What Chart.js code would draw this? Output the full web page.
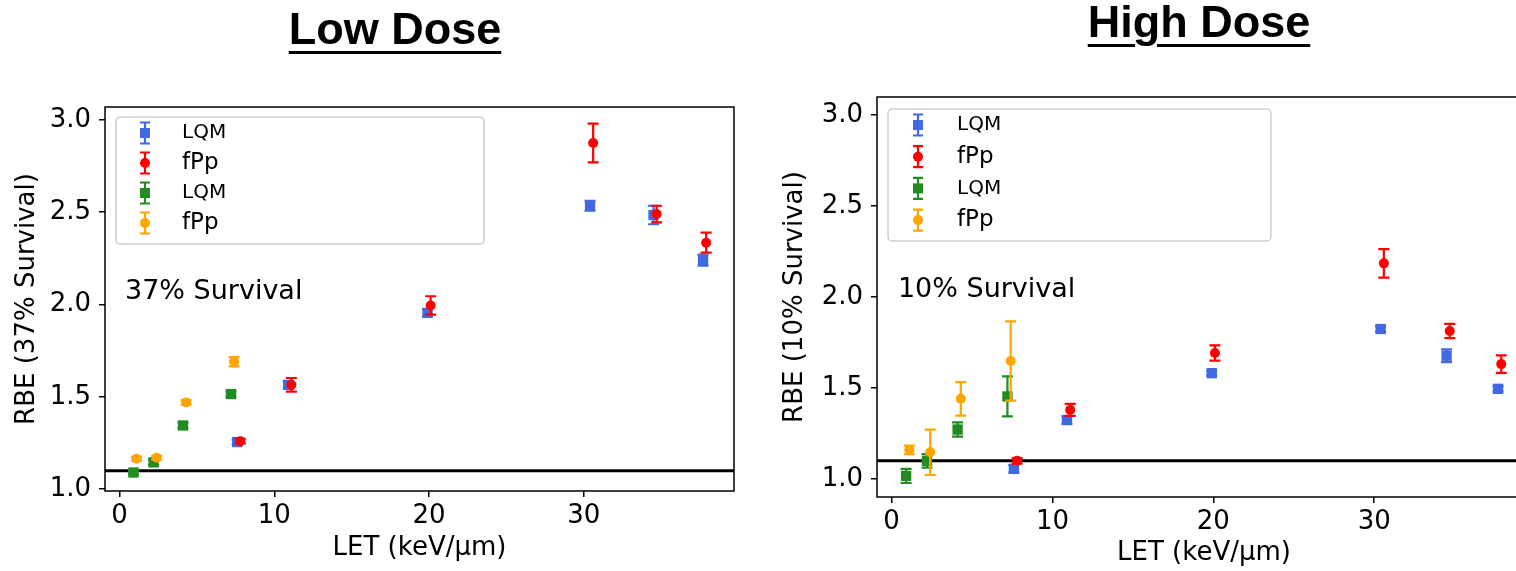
<!DOCTYPE html>
<html>
<head>
<meta charset="utf-8">
<script src="https://cdn.jsdelivr.net/npm/chart.js@4.4.0/dist/chart.umd.min.js"></script>
<style>
  html, body { margin: 0; padding: 0; background: #fff; overflow: hidden; }
  body { width: 1516px; height: 571px; position: relative; }
  .panel { position: absolute; top: 0; height: 571px; }
  #panelLow { left: 0; width: 758px; }
  #panelHigh { left: 758px; width: 782px; }
  .dose {
    position: absolute; z-index: 2; transform: translateX(-50%);
    font-family: 'Liberation Sans', Lato, sans-serif; font-weight: bold; font-size: 45px;
    line-height: 1; white-space: nowrap; color: #000;
    text-decoration: underline; text-decoration-thickness: 3px; text-underline-offset: 7px;
  }
  #lowTitle { left: 395px; top: 6px; }
  #highTitle { left: 1199px; top: -1px; }
</style>
</head>
<body>
<div id="lowTitle" class="dose">Low Dose</div>
<div id="highTitle" class="dose">High Dose</div>
<div id="panelLow" class="panel"><canvas id="lowChart"></canvas></div>
<div id="panelHigh" class="panel"><canvas id="highChart"></canvas></div>
<script>
// LET values (keV/um), shared by both panels
const letBlue = [7.6, 10.9, 19.9, 30.4, 34.5, 37.7];
const letRed = [7.8, 11.1, 20.1, 30.6, 34.7, 37.9];
const letGreen = [0.9, 2.2, 4.1, 7.2];
const letOrange = [1.1, 2.4, 4.3, 7.4];

// low dose (37% survival)
const lowBlue = [1.255, 1.565, 1.955, 2.535, 2.485, 2.24];
const lowBlueErr = [0.012, 0.02, 0.02, 0.027, 0.05, 0.03];
const lowRed = [1.26, 1.565, 1.995, 2.875, 2.49, 2.335];
const lowRedErr = [0.012, 0.037, 0.05, 0.105, 0.045, 0.054];
const lowGreen = [1.09, 1.145, 1.345, 1.515];
const lowGreenErr = [0.01, 0.015, 0.015, 0.015];
const lowOrange = [1.165, 1.17, 1.47, 1.69];
const lowOrangeErr = [0.01, 0.01, 0.012, 0.025];

// high dose (10% survival)
const highBlue = [1.055, 1.323, 1.581, 1.824, 1.677, 1.495];
const highBlueErr = [0.02, 0.02, 0.012, 0.015, 0.035, 0.015];
const highRed = [1.099, 1.379, 1.692, 2.185, 1.813, 1.631];
const highRedErr = [0.015, 0.033, 0.042, 0.078, 0.039, 0.048];
const highGreen = [1.016, 1.099, 1.271, 1.453];
const highGreenErr = [0.039, 0.037, 0.039, 0.11];
const highOrange = [1.159, 1.146, 1.44, 1.648];
const highOrangeErr = [0.024, 0.125, 0.092, 0.218];

const seriesNames = ['LQM', 'fPp', 'LQM', 'fPp'];
const xTickVals = [0, 10, 20, 30];
const yTickVals = [1.0, 1.5, 2.0, 2.5, 3.0];
const refRbe = 1.1;

const FONT = 'DejaVu Sans';
const colors = ['#4169e1', '#ff0000', '#228b22', '#ffa500'];
const shapes = ['rect', 'circle', 'rect', 'circle'];

function pts(xs, ys) {
  return xs.map((x, i) => ({ x: x, y: ys[i] }));
}

function makeSets(ys, errs) {
  const xs = [letBlue, letRed, letGreen, letOrange];
  return ys.map((y, k) => ({
    label: seriesNames[k],
    data: pts(xs[k], y),
    errors: errs[k],
    order: 4 - k,
    pointStyle: shapes[k],
    pointRadius: shapes[k] == 'rect' ? 7.3 : 5,
    pointHoverRadius: shapes[k] == 'rect' ? 7.3 : 5,
    backgroundColor: colors[k],
    borderColor: colors[k],
    borderWidth: 0
  }));
}

// error bars, reference line, frame, legend and label
const extras = {
  id: 'extras',
  beforeDatasetsDraw(chart) {
    const { ctx, chartArea } = chart;
    const y = chart.scales.y.getPixelForValue(refRbe);
    ctx.save();
    ctx.strokeStyle = '#000';
    ctx.lineWidth = 3;
    ctx.beginPath();
    ctx.moveTo(chartArea.left, y);
    ctx.lineTo(chartArea.right, y);
    ctx.stroke();
    ctx.restore();
  },
  beforeDatasetDraw(chart, args) {
    const ds = chart.data.datasets[args.index];
    const ys = chart.scales.y;
    const ctx = chart.ctx;
    ctx.save();
    ctx.strokeStyle = ds.borderColor;
    ctx.lineWidth = 2.2;
    args.meta.data.forEach((p, i) => {
      const v = ds.data[i].y, e = ds.errors[i];
      const t = ys.getPixelForValue(v + e), b = ys.getPixelForValue(v - e);
      ctx.beginPath();
      ctx.moveTo(p.x, t); ctx.lineTo(p.x, b);
      ctx.moveTo(p.x - 5.5, t); ctx.lineTo(p.x + 5.5, t);
      ctx.moveTo(p.x - 5.5, b); ctx.lineTo(p.x + 5.5, b);
      ctx.stroke();
    });
    ctx.restore();
  },
  afterDraw(chart, args, opts) {
    const { ctx, chartArea } = chart;
    ctx.save();
    ctx.strokeStyle = '#000';
    ctx.lineWidth = 1.5;
    ctx.strokeRect(chartArea.left, chartArea.top, chartArea.right - chartArea.left, chartArea.bottom - chartArea.top);

    // legend box
    const lg = opts.legend;
    const bx = chartArea.left + lg.x, by = chartArea.top + lg.y;
    ctx.fillStyle = 'rgba(255,255,255,0.8)';
    ctx.strokeStyle = '#d0d0d0';
    ctx.lineWidth = 1.5;
    ctx.beginPath();
    ctx.roundRect(bx, by, lg.w, lg.h, 4);
    ctx.fill();
    ctx.stroke();
    chart.data.datasets.forEach((ds, k) => {
      const cy = by + lg.first + k * lg.step;
      const cx = bx + lg.glyph;
      ctx.strokeStyle = ds.borderColor;
      ctx.fillStyle = ds.backgroundColor;
      ctx.lineWidth = 2.2;
      ctx.beginPath();
      ctx.moveTo(cx, cy - 10.5); ctx.lineTo(cx, cy + 10.5);
      ctx.moveTo(cx - 5, cy - 10.5); ctx.lineTo(cx + 5, cy - 10.5);
      ctx.moveTo(cx - 5, cy + 10.5); ctx.lineTo(cx + 5, cy + 10.5);
      ctx.stroke();
      ctx.beginPath();
      if (ds.pointStyle == 'rect') ctx.rect(cx - 5, cy - 5, 10, 10);
      else ctx.arc(cx, cy, 5, 0, Math.PI * 2);
      ctx.fill();
      ctx.fillStyle = '#000';
      ctx.textBaseline = 'middle';
      ctx.textAlign = 'left';
      ctx.font = (ds.label == 'LQM' ? 20 : 23) + 'px "' + FONT + '"';
      ctx.fillText(ds.label, bx + lg.text, cy);
    });

    // survival label
    const nt = opts.note;
    ctx.fillStyle = '#000';
    ctx.font = '27px "' + FONT + '"';
    ctx.textBaseline = 'alphabetic';
    ctx.fillText(nt.text, chart.scales.x.getPixelForValue(nt.x), chart.scales.y.getPixelForValue(nt.y));
    ctx.restore();
  }
};

function makeChart(id, sets, cfg) {
  return new Chart(document.getElementById(id), {
    type: 'scatter',
    data: { datasets: sets },
    plugins: [extras],
    options: {
      responsive: true,
      maintainAspectRatio: false,
      animation: false,
      events: [],
      layout: { padding: { top: cfg.top, right: cfg.right, left: 0, bottom: 0 } },
      plugins: {
        legend: { display: false },
        tooltip: { enabled: false },
        extras: { legend: cfg.legend, note: cfg.note }
      },
      scales: {
        x: {
          type: 'linear',
          min: cfg.xMin, max: cfg.xMax,
          afterBuildTicks: s => { s.ticks = xTickVals.map(v => ({ value: v })); },
          afterFit: s => { s.height = cfg.xAxisH; },
          grid: { drawOnChartArea: false, drawTicks: true, tickLength: 6, color: '#000', lineWidth: 1.5 },
          border: { display: false },
          ticks: { color: '#000', padding: 4, maxRotation: 0, font: { family: FONT, size: 26 } },
          title: { display: true, text: 'LET (keV/\u03bcm)', color: '#000', font: { family: FONT, size: 26 }, padding: { top: 0, bottom: cfg.xTitlePad } }
        },
        y: {
          type: 'linear',
          min: cfg.yMin, max: cfg.yMax,
          afterBuildTicks: s => { s.ticks = yTickVals.map(v => ({ value: v })); },
          afterFit: s => { s.width = cfg.yAxisW; },
          grid: { drawOnChartArea: false, drawTicks: true, tickLength: 6, color: '#000', lineWidth: 1.5 },
          border: { display: false },
          ticks: { color: '#000', padding: 8, font: { family: FONT, size: 26 }, callback: v => v.toFixed(1) },
          title: { display: true, text: cfg.yTitle, color: '#000', font: { family: FONT, size: 26 }, padding: { top: cfg.yTitlePad, bottom: 0 } }
        }
      }
    }
  });
}

makeChart('lowChart',
  makeSets([lowBlue, lowRed, lowGreen, lowOrange], [lowBlueErr, lowRedErr, lowGreenErr, lowOrangeErr]),
  {
    top: 107, right: 24, xAxisH: 80, yAxisW: 105,
    xMin: -0.94, xMax: 39.7, yMin: 0.99, yMax: 3.07,
    xTitlePad: 7, yTitlePad: 12,
    yTitle: 'RBE (37% Survival)',
    legend: { x: 11, y: 10, w: 368, h: 127, first: 16, step: 30, glyph: 29, text: 66 },
    note: { text: '37% Survival', x: 0.35, y: 2.03 }
  });

makeChart('highChart',
  makeSets([highBlue, highRed, highGreen, highOrange], [highBlueErr, highRedErr, highGreenErr, highOrangeErr]),
  {
    top: 97, right: 9, xAxisH: 74, yAxisW: 119,
    xMin: -0.91, xMax: 39.75, yMin: 0.9, yMax: 3.1,
    xTitlePad: 2, yTitlePad: 22,
    yTitle: 'RBE (10% Survival)',
    legend: { x: 11, y: 12, w: 383, h: 132, first: 16, step: 31.7, glyph: 30, text: 69 },
    note: { text: '10% Survival', x: 0.39, y: 2.0 }
  });
</script>
</body>
</html>
